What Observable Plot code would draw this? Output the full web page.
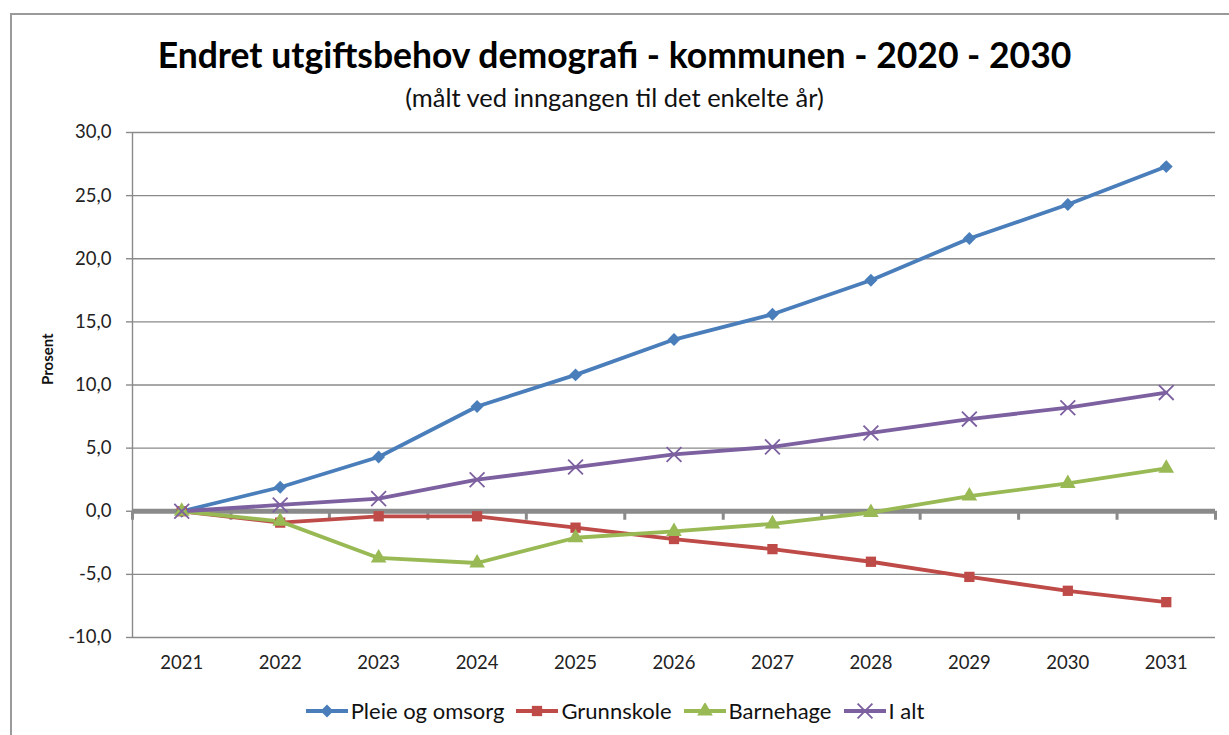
<!DOCTYPE html>
<html>
<head>
<meta charset="utf-8">
<script src="https://cdn.jsdelivr.net/npm/d3@7"></script>
<script src="https://cdn.jsdelivr.net/npm/@observablehq/plot@0.6"></script>
<style>
  html, body { margin: 0; padding: 0; background: #fff; width: 1229px; height: 735px; overflow: hidden; }
  #frame { position: absolute; left: 10px; top: 13px; width: 1240px; height: 740px; border: 2px solid #9a9a9a; box-sizing: border-box; }
  #title { position: absolute; left: 0; width: 1229px; top: 34px; text-align: center; font-family: Lato, sans-serif; font-weight: bold; font-size: 35.5px; line-height: 42px; color: #000; }
  #subtitle { position: absolute; left: 0; width: 1229px; top: 82px; text-align: center; font-family: Lato, sans-serif; font-size: 25.5px; line-height: 30px; color: #111; }
  #chart { position: absolute; left: 0; top: 115px; }
  #legend { position: absolute; left: 0; width: 1229px; top: 697px; display: flex; justify-content: center; gap: 11px; font-family: Lato, sans-serif; font-size: 22px; line-height: 28px; color: #111; }
  #legend .item { display: flex; align-items: center; gap: 2px; }
</style>
</head>
<body>
<div id="frame"></div>
<div id="title">Endret utgiftsbehov demografi - kommunen - 2020 - 2030</div>
<div id="subtitle">(målt ved inngangen til det enkelte år)</div>
<div id="chart"></div>
<div id="legend"></div>
<script>
const years = [2021, 2022, 2023, 2024, 2025, 2026, 2027, 2028, 2029, 2030, 2031];
const pleie = [0, 1.9, 4.3, 8.3, 10.8, 13.6, 15.6, 18.3, 21.6, 24.3, 27.3];
const grunnskole = [0, -0.9, -0.4, -0.4, -1.3, -2.2, -3.0, -4.0, -5.2, -6.3, -7.2];
const barnehage = [0, -0.8, -3.7, -4.1, -2.1, -1.6, -1.0, -0.1, 1.2, 2.2, 3.4];
const ialt = [0, 0.5, 1.0, 2.5, 3.5, 4.5, 5.1, 6.2, 7.3, 8.2, 9.4];
const seriesNames = ["Pleie og omsorg", "Grunnskole", "Barnehage", "I alt"];
const seriesColors = ["#4A7EBB", "#BE4B48", "#98B954", "#7D60A0"];
const seriesSymbols = ["diamond2", "square", "triangle", "times"];
const yTicks = [-10, -5, 0, 5, 10, 15, 20, 25, 30];

const values = [pleie, grunnskole, barnehage, ialt];
const data = [];
seriesNames.forEach((name, s) => {
  years.forEach((yr, i) => data.push({series: name, year: yr, value: values[s][i]}));
});
const boundaries = years.map(y => y - 0.5).concat([years[years.length - 1] + 0.5]);
const fmt = d => d.toFixed(1).replace(".", ",");
const font = 'Lato, sans-serif';

const marks = [
  Plot.gridY(yTicks, {stroke: "#8a8a8a", strokeOpacity: 1, strokeWidth: 1.4}),
  Plot.ruleX([boundaries[0]], {stroke: "#8a8a8a", strokeWidth: 1.4}),
  Plot.axisY(yTicks, {tickSize: 6, tickFormat: null, text: null, stroke: "#8a8a8a", strokeWidth: 1.4, label: null}),
  Plot.axisY(yTicks, {tickSize: 0, tickPadding: 21, tickFormat: fmt, fill: "#222", label: null, fontSize: 18.5}),
  Plot.axisX(years, {tickSize: 0, tickPadding: 18, tickFormat: d => String(d), fill: "#222", label: null, fontSize: 18.5}),
  Plot.ruleY([0], {stroke: "#8a8a8a", strokeWidth: 5}),
  Plot.ruleX(boundaries, {y1: 0, y2: 0, insetTop: 9, stroke: "#8a8a8a", strokeWidth: 3}),
  Plot.lineY(data, {x: "year", y: "value", z: "series", stroke: "series", strokeWidth: 3.8, strokeLinejoin: "round"}),
  Plot.dot(data.filter(d => d.series !== "I alt"), {x: "year", y: "value", symbol: "series", fill: "series", r: 5.8, stroke: "none"}),
  Plot.dot(data.filter(d => d.series === "I alt"), {x: "year", y: "value", symbol: "series", stroke: "series", r: 6.8, strokeWidth: 1.8}),
  Plot.text(["Prosent"], {frameAnchor: "left", dx: -84, rotate: -90, fontWeight: "bold", fontSize: 15, fill: "#111"})
];

const chart = Plot.plot({
  width: 1229,
  height: 575,
  marginLeft: 132,
  marginRight: 14,
  marginTop: 17,
  marginBottom: 53,
  style: {fontFamily: font, fontSize: "18px", background: "transparent", overflow: "visible"},
  x: {domain: [boundaries[0], boundaries[boundaries.length - 1]], axis: null},
  y: {domain: [-10, 30], axis: null},
  color: {domain: seriesNames, range: seriesColors},
  symbol: {domain: seriesNames, range: seriesSymbols},
  marks
});
document.getElementById("chart").appendChild(chart);

// legend
const legend = d3.select("#legend");
const symGen = {diamond2: d3.symbolDiamond2, square: d3.symbolSquare, triangle: d3.symbolTriangle, times: d3.symbolTimes};
seriesNames.forEach((name, i) => {
  const item = legend.append("div").attr("class", "item");
  const svg = item.append("svg").attr("width", 44).attr("height", 16);
  svg.append("line").attr("x1", 1).attr("x2", 43).attr("y1", 8).attr("y2", 8)
    .attr("stroke", seriesColors[i]).attr("stroke-width", 3.8);
  const isTimes = seriesSymbols[i] === "times";
  svg.append("path").attr("transform", "translate(22,8)")
    .attr("d", d3.symbol(symGen[seriesSymbols[i]], Math.PI * (isTimes ? 6.8 : 5.8) ** 2)())
    .attr("fill", isTimes ? "none" : seriesColors[i])
    .attr("stroke", isTimes ? seriesColors[i] : "none")
    .attr("stroke-width", 1.8);
  item.append("span").text(name);
});
</script>
</body>
</html>
